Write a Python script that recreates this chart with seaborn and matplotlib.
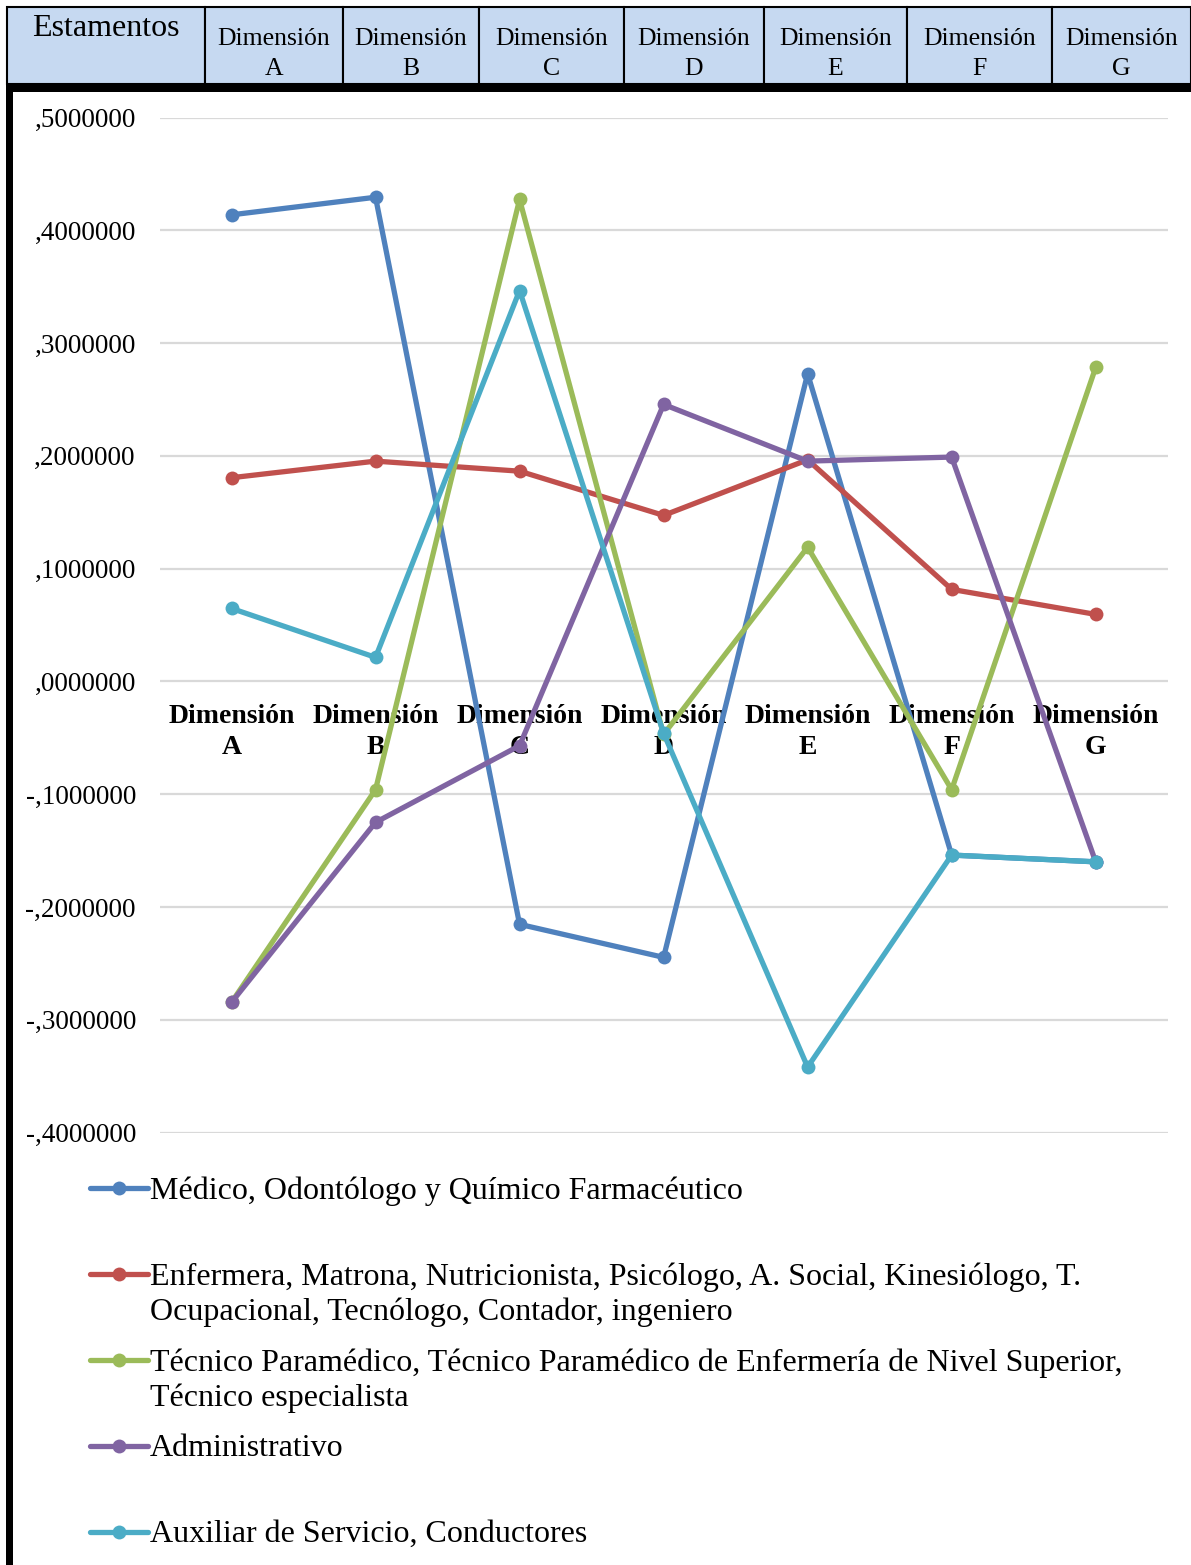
import matplotlib
matplotlib.use("Agg")
import matplotlib.pyplot as plt
from matplotlib.patches import Rectangle
from matplotlib.lines import Line2D
from matplotlib.ticker import FuncFormatter
import seaborn as sns
import pandas as pd

# --- data -------------------------------------------------------------
dimensiones = ["A", "B", "C", "D", "E", "F", "G"]
etiquetas_x = [f"Dimensión\n{d}" for d in dimensiones]

estamentos = [
    "Médico, Odontólogo y Químico Farmacéutico",
    "Enfermera, Matrona, Nutricionista, Psicólogo, A. Social, Kinesiólogo, T.\nOcupacional, Tecnólogo, Contador, ingeniero",
    "Técnico Paramédico, Técnico Paramédico de Enfermería de Nivel Superior,\nTécnico especialista",
    "Administrativo",
    "Auxiliar de Servicio, Conductores",
]

medico = [0.4137, 0.4293, -0.2154, -0.2447, 0.2728, -0.1540, -0.1600]
enfermera = [0.1806, 0.1953, 0.1864, 0.1472, 0.1965, 0.0816, 0.0594]
tecnico = [-0.2846, -0.0960, 0.4273, -0.0470, 0.1190, -0.0960, 0.2784]
administrativo = [-0.2846, -0.1250, -0.0570, 0.2456, 0.1953, 0.1989, -0.1600]
auxiliar = [0.0647, 0.0213, 0.3466, -0.0460, -0.3420, -0.1540, -0.1600]

series = [medico, enfermera, tecnico, administrativo, auxiliar]
colores = ["#4F81BD", "#C0504D", "#9BBB59", "#8064A2", "#4BACC6"]

y_ticks = [0.5, 0.4, 0.3, 0.2, 0.1, 0.0, -0.1, -0.2, -0.3, -0.4]

filas = []
for nombre, valores in zip(estamentos, series):
    for etiqueta, v in zip(etiquetas_x, valores):
        filas.append({"dimension": etiqueta, "valor": v, "estamento": nombre})
df = pd.DataFrame(filas)

# --- style ------------------------------------------------------------
sns.set_style("white")
plt.rcParams["font.family"] = ["Liberation Serif", "DejaVu Serif"]
plt.rcParams["text.color"] = "black"
plt.rcParams["xtick.color"] = "black"
plt.rcParams["ytick.color"] = "black"
plt.rcParams["axes.labelcolor"] = "black"

W, H = 1191, 1565
fig = plt.figure(figsize=(W / 100, H / 100), dpi=100)


def fx(px):
    return px / W


def fy(py):
    return 1 - py / H


# --- plot area --------------------------------------------------------
ax_left, ax_right, ax_top, ax_bottom = 159.5, 1167.7, 117.5, 1132.5
ax = fig.add_axes([fx(ax_left), fy(ax_bottom), fx(ax_right - ax_left),
                   (ax_bottom - ax_top) / H])

sns.lineplot(data=df, x="dimension", y="valor", hue="estamento",
             palette=colores, marker="o", markersize=10, markeredgewidth=0,
             linewidth=3.8, sort=False, legend=False, ax=ax)

ax.set_xlim(-0.5, len(dimensiones) - 0.5)
ax.set_ylim(-0.4, 0.5)
ax.set_yticks(y_ticks)
ax.yaxis.set_major_formatter(FuncFormatter(
    lambda v, _: ("-" if v < -1e-9 else "") + "," + f"{abs(v):.7f}".split(".")[1]))
ax.grid(axis="y", color="#D9D9D9", linewidth=1.6)
ax.grid(axis="x", visible=False)
ax.set_axisbelow(True)
ax.set_xlabel("")
ax.set_ylabel("")

for s in ["top", "right", "left"]:
    ax.spines[s].set_visible(False)
ax.spines["bottom"].set_position(("data", 0))
ax.spines["bottom"].set_color("none")

ax.set_xticks(range(len(dimensiones)))
ax.set_xticklabels(etiquetas_x, fontweight="bold", fontsize=20, linespacing=1.32)
ax.tick_params(axis="x", length=0, pad=16, colors="black")
ax.tick_params(axis="y", length=0, pad=17, labelsize=19.5, colors="black")

# --- header table -----------------------------------------------------
bordes = [7, 205, 343, 479, 624, 764, 907, 1052, 1191]
cab_top, cab_bot = 7, 84
for i in range(len(bordes) - 1):
    x0, x1 = bordes[i], bordes[i + 1]
    fig.add_artist(Rectangle((fx(x0), fy(cab_bot)), fx(x1 - x0), (cab_bot - cab_top) / H,
                             transform=fig.transFigure, facecolor="#C6D9F1",
                             edgecolor="black", linewidth=1.5))
fig.text(fx(106), fy(29), "Estamentos", ha="center", va="center", fontsize=23)
for i, d in enumerate(dimensiones):
    xc = (bordes[i + 1] + bordes[i + 2]) / 2
    fig.text(fx(xc), fy(54), f"Dimensión\n{d}", ha="center", va="center",
             fontsize=18.5, linespacing=1.45)

# thick rule under the header and along the left margin
fig.add_artist(Rectangle((fx(6), fy(92)), fx(W - 6), 8 / H, transform=fig.transFigure,
                         facecolor="black", edgecolor="none"))
fig.add_artist(Rectangle((fx(6), 0), fx(7), fy(84), transform=fig.transFigure,
                         facecolor="black", edgecolor="none"))

# --- legend -----------------------------------------------------------
filas_leyenda = [1188, 1274, 1360, 1446, 1532]
for nombre, color, yr in zip(estamentos, colores, filas_leyenda):
    fig.add_artist(Line2D([fx(90), fx(148)], [fy(yr), fy(yr)], transform=fig.transFigure,
                          color=color, linewidth=3.8))
    fig.add_artist(Line2D([fx(119)], [fy(yr)], transform=fig.transFigure, color=color,
                          marker="o", markersize=10, markeredgewidth=0, linestyle="none"))
    fig.text(fx(150), fy(yr - 12), nombre, ha="left", va="top", fontsize=23,
             linespacing=1.27)

fig.savefig("out.png", dpi=100, facecolor="white")
